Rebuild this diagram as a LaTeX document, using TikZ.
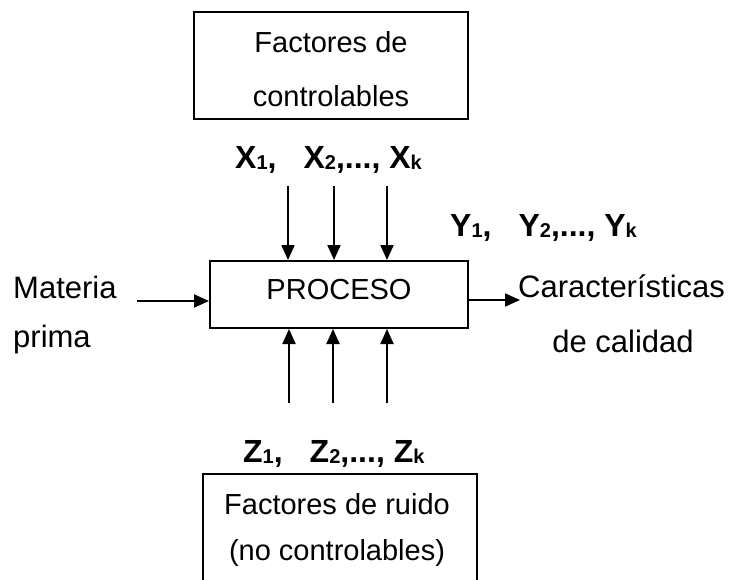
\documentclass[tikz,border=0pt]{standalone}
\usepackage{fontspec}
\setmainfont{Liberation Sans}
\usetikzlibrary{arrows.meta}
\newcommand\sbx[1]{\raisebox{-1.5pt}{\fontsize{20}{20}\selectfont #1}}
\tikzset{
  boxn/.style={draw=black, line width=2pt, inner sep=0pt},
  txt/.style={inner sep=0pt, anchor=base, font=\fontsize{29}{29}\selectfont},
  sidetxt/.style={inner sep=0pt, font=\fontsize{31}{31}\selectfont},
  lbl/.style={inner sep=0pt, anchor=base west, font=\fontsize{32}{32}\selectfont\bfseries},
  arr/.style={line width=2pt, -{Triangle[length=15pt,width=13pt]}}
}
\begin{document}
\begin{tikzpicture}[x=1pt,y=1pt]
\useasboundingbox (0,0) rectangle (734,-579);
% boxes
\node[boxn, minimum width=274pt, minimum height=107pt] (top) at (331,-65.5) {};
\node[boxn, minimum width=258pt, minimum height=67pt] (proc) at (339,-294.5) {};
\node[boxn, minimum width=274pt, minimum height=116pt] (bot) at (340,-532) {};
% box texts
\node[txt] (t1) at (331,-52) {Factores de};
\node[txt] (t2) at (331,-106) {controlables};
\node[txt] (pt) at (339,-299) {PROCESO};
\node[txt] (b1) at (337,-514) {Factores de ruido};
\node[txt] (b2) at (337,-560) {(no controlables)};
% side texts
\node[sidetxt, anchor=base west] (m1) at (13,-298) {Materia};
\node[sidetxt, anchor=base west] (m2) at (13,-347) {prima};
\node[sidetxt, anchor=base west] (c1) at (518,-297) {Características};
\node[sidetxt, anchor=base] (c2) at (623,-352) {de calidad};
% labels
\node[lbl] (xl) at (235,-168) {X\sbx{1},\hspace{27pt}X\sbx{2},..., X\sbx{k}};
\node[lbl] (yl) at (450,-236) {Y\sbx{1},\hspace{27pt}Y\sbx{2},..., Y\sbx{k}};
\node[lbl] (zl) at (243,-462) {Z\sbx{1},\hspace{27pt}Z\sbx{2},..., Z\sbx{k}};
% arrow starts
\coordinate (xa) at (288,-186);
\coordinate (xb) at (334,-186);
\coordinate (xc) at (387,-186);
\coordinate (za) at (289,-403);
\coordinate (zb) at (333,-403);
\coordinate (zc) at (387,-403);
\coordinate (in) at (137,-301);
\coordinate (out) at (520,-300);
\draw[arr] (xa) -- (xa |- proc.north);
\draw[arr] (xb) -- (xb |- proc.north);
\draw[arr] (xc) -- (xc |- proc.north);
\draw[arr] (za) -- (za |- proc.south);
\draw[arr] (zb) -- (zb |- proc.south);
\draw[arr] (zc) -- (zc |- proc.south);
\draw[arr] (in) -- (in -| proc.west);
\draw[arr] (proc.east |- out) -- (out);
\end{tikzpicture}
\end{document}
